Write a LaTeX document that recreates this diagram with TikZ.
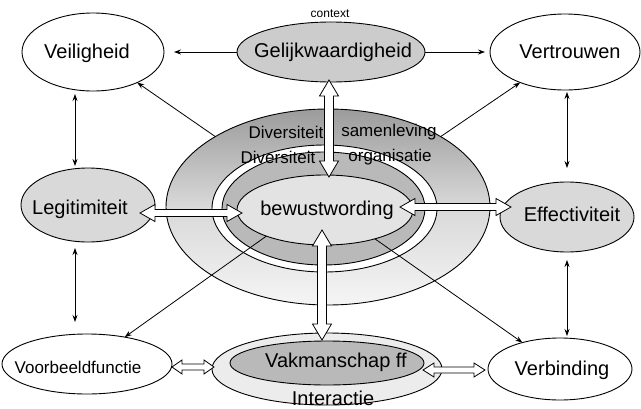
\documentclass[tikz,border=0pt]{standalone}
\usepackage{fontspec}
\setmainfont{Liberation Sans}
\usetikzlibrary{shapes.geometric,arrows.meta,calc}
\tikzset{
  ell/.style={ellipse, draw, line width=0.9pt, inner sep=0pt, outer sep=0pt},
  lab/.style={font=\fontsize{20}{24}\selectfont, inner sep=0pt},
  smalllab/.style={font=\fontsize{12}{14}\selectfont, inner sep=0pt},
  midlab/.style={font=\fontsize{17}{20}\selectfont, inner sep=0pt},
  thinarrow/.style={line width=0.8pt, -{Stealth[length=7pt,width=5pt]}},
  thinboth/.style={line width=0.8pt, {Stealth[length=7pt,width=5pt]}-{Stealth[length=7pt,width=5pt]}},
  blockarrow/.style={draw, fill=white, line width=0.8pt, line join=miter},
}
% horizontal double block arrow: #1 left tip, #2 right tip, #3 shaft half width, #4 head half width, #5 head length
\newcommand\hblock[5]{%
  \path[blockarrow] let \p1=(#1), \p2=(#2) in
  (\x1,\y1) -- (\x1+#5,\y1+#4) -- (\x1+#5,\y1+#3) -- (\x2-#5,\y1+#3) -- (\x2-#5,\y1+#4) -- (\x2,\y1)
  -- (\x2-#5,\y1-#4) -- (\x2-#5,\y1-#3) -- (\x1+#5,\y1-#3) -- (\x1+#5,\y1-#4) -- cycle;}
% vertical double block arrow: #1 top tip, #2 bottom tip
\newcommand\vblock[5]{%
  \path[blockarrow] let \p1=(#1), \p2=(#2) in
  (\x1,\y1) -- (\x1+#4,\y1-#5) -- (\x1+#3,\y1-#5) -- (\x1+#3,\y2+#5) -- (\x1+#4,\y2+#5) -- (\x1,\y2)
  -- (\x1-#4,\y2+#5) -- (\x1-#3,\y2+#5) -- (\x1-#3,\y1-#5) -- (\x1-#4,\y1-#5) -- cycle;}
\begin{document}
\begin{tikzpicture}[x=1pt,y=-1pt]
\useasboundingbox (0,0) rectangle (641,408);

% outer nodes
\node[ell, fill=white, minimum width=142pt, minimum height=78pt] (veil) at (93,52) {};
\node[ell, fill=gray!40, minimum width=188pt, minimum height=60pt] (gelijk) at (331,52) {};
\node[ell, fill=white, minimum width=150pt, minimum height=76pt] (vertr) at (565,52) {};
\node[ell, fill=gray!30, minimum width=134pt, minimum height=74pt] (legit) at (88,205) {};
\node[ell, fill=gray!30, minimum width=134pt, minimum height=70pt] (effect) at (567,217) {};
\node[ell, fill=white, minimum width=170pt, minimum height=60pt] (voorb) at (87,364) {};
\node[ell, fill=gray!15, minimum width=230pt, minimum height=72pt] (vak) at (327,369) {};
\node[ell, fill=gray!55, minimum width=194pt, minimum height=44pt] (vakin) at (327,363) {};
\node[ell, fill=white, minimum width=144pt, minimum height=62pt] (verb) at (560,369) {};

% central rings
\node[ell, top color=gray!78, bottom color=gray!8, middle color=gray!30, minimum width=324pt, minimum height=196pt] (samen) at (328,207) {};
\node[ell, fill=white, minimum width=225pt, minimum height=127pt] (band) at (324.5,208.5) {};
\node[ell, fill=gray!55, minimum width=203pt, minimum height=113pt] (orgring) at (323.5,208.5) {};
\node[ell, fill=gray!22, minimum width=176pt, minimum height=70pt] (bewust) at (325,210) {};

% labels
\node[smalllab] (ctx) at (330,14) {context};
\node[lab] (tveil) at (87,53) {Veiligheid};
\node[lab] (tgelijk) at (333,52) {Gelijkwaardigheid};
\node[lab] (tvertr) at (570,52) {Vertrouwen};
\node[lab] (tlegit) at (80,209) {Legitimiteit};
\node[lab] (teffect) at (572,214) {Effectiviteit};
\node[lab] (tbewust) at (327,210) {bewustwording};
\node[midlab] (tvoorb) at (78,367) {Voorbeeldfunctie};
\node[lab] (tverb) at (562,370) {Verbinding};
\node[lab] (tvak) at (336,362) {Vakmanschap ff};
\node[lab] (tint) at (333,398) {Interactie};
\node[midlab] (tdiv1) at (286,132) {Diversiteit};
\node[midlab] (tsam) at (389,132) {samenleving};
\node[midlab] (tdiv2) at (278,157) {Diversiteit};
\node[midlab] (torg) at (390,157) {organisatie};

% thin connectors
\draw[thinarrow, shorten >=10pt] (gelijk) -- (veil);
\draw[thinarrow, shorten >=5pt] (gelijk) -- (vertr);
\draw[thinboth, shorten <=3pt, shorten >=2pt] ([xshift=-18pt]veil.south) -- ([xshift=-13pt]legit.north);
\draw[thinboth, shorten <=6pt, shorten >=12pt] ([xshift=-13pt]legit.south) -- ([xshift=-12pt]voorb.north);
\draw[thinboth, shorten <=2pt, shorten >=14pt] ([xshift=2pt]vertr.south) -- (effect.north);
\draw[thinboth, shorten <=8pt, shorten >=2pt] (effect.south) -- ([xshift=7pt]verb.north);
\draw[thinarrow] (samen.148) -- (veil);
\draw[thinarrow] (samen.32) -- (vertr);
\draw[thinarrow] (bewust.204) -- (voorb);
\draw[thinarrow] (bewust.-30) -- (verb);

% block arrows
\coordinate (gtip) at (329,80);
\coordinate (btip) at (329,177);
\coordinate (bbot) at (322,230);
\coordinate (vtop) at (322,340);
\coordinate (ltip) at (140,213);
\coordinate (bl) at (242,213);
\coordinate (br) at (400,207);
\coordinate (etip) at (511,207);
\coordinate (vol) at (172,367);
\coordinate (vakl) at (214,367);
\coordinate (vakr) at (423,370);
\coordinate (verbl) at (485,370);
\vblock{gtip}{btip}{4.5pt}{9.5pt}{16pt}
\vblock{bbot}{vtop}{4.5pt}{9.5pt}{16pt}
\hblock{ltip}{bl}{3.5pt}{8.5pt}{15pt}
\hblock{br}{etip}{3.5pt}{8.5pt}{15pt}
\hblock{vol}{vakl}{3pt}{7pt}{10pt}
\hblock{vakr}{verbl}{3pt}{7pt}{11pt}
\end{tikzpicture}
\end{document}
